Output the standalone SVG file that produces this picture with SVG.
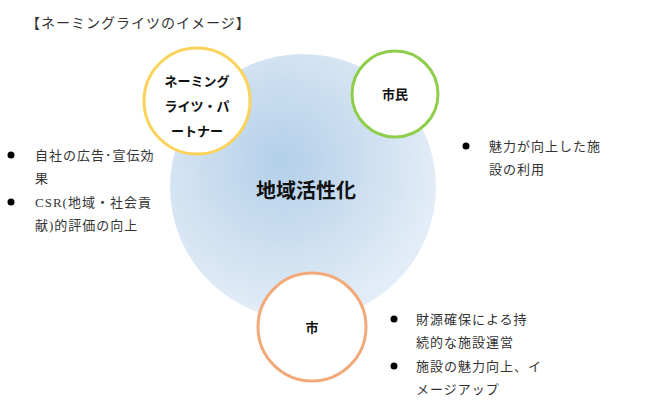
<svg xmlns="http://www.w3.org/2000/svg" width="660" height="418" viewBox="0 0 660 418">
<style>
.t{font-family:"Liberation Serif","Noto Sans CJK JP",serif;font-size:13px;fill:#333;letter-spacing:1px}
.b{font-family:"Noto Sans CJK JP",sans-serif;font-weight:bold;fill:#111;text-anchor:middle}
.node{fill:#fff;stroke-width:3}
</style>
<defs>
<radialGradient id="g" cx="0.42" cy="0.4" r="0.6">
<stop offset="0" stop-color="#b3cfe9"/>
<stop offset="1" stop-color="#e3edf7"/>
</radialGradient>
</defs>
<rect width="660" height="418" fill="#fff"/>
<text class="t" x="26" y="28" style="font-size:14px">【ネーミングライツのイメージ】</text>
<g id="center"><circle cx="303" cy="187" r="133" fill="url(#g)"/>
<text class="b" x="306" y="198" style="font-size:20px">地域活性化</text></g>
<g id="connectors"/>
<g id="partner"><circle class="node" cx="197" cy="101" r="53" stroke="#fbd35a"/>
<text class="b" x="197" y="86" font-size="13">ネーミング</text>
<text class="b" x="197" y="111" font-size="13">ライツ・パ</text>
<text class="b" x="197" y="136" font-size="13">ートナー</text></g>
<g id="shimin"><circle class="node" cx="395" cy="94" r="43" stroke="#8fce4a"/>
<text class="b" x="395" y="99" font-size="13">市民</text></g>
<g id="shi"><circle class="node" cx="312" cy="327" r="54" stroke="#f3aa7a"/>
<text class="b" x="312" y="332" font-size="13">市</text></g>
<g id="notes">
<circle cx="11" cy="155" r="3.5" fill="#000"/>
<text class="t" x="35" y="160">自社の広告･宣伝効</text>
<text class="t" x="35" y="183">果</text>
<circle cx="11" cy="202" r="3.5" fill="#000"/>
<text class="t" x="35" y="207">CSR(地域・社会貢</text>
<text class="t" x="35" y="230">献)的評価の向上</text>
<circle cx="466" cy="146" r="3.5" fill="#000"/>
<text class="t" x="489" y="151">魅力が向上した施</text>
<text class="t" x="489" y="174">設の利用</text>
<circle cx="394" cy="319" r="3.5" fill="#000"/>
<text class="t" x="416" y="324">財源確保による持</text>
<text class="t" x="416" y="347">続的な施設運営</text>
<circle cx="394" cy="366" r="3.5" fill="#000"/>
<text class="t" x="416" y="371">施設の魅力向上、イ</text>
<text class="t" x="416" y="394">メージアップ</text>
</g>
</svg>
